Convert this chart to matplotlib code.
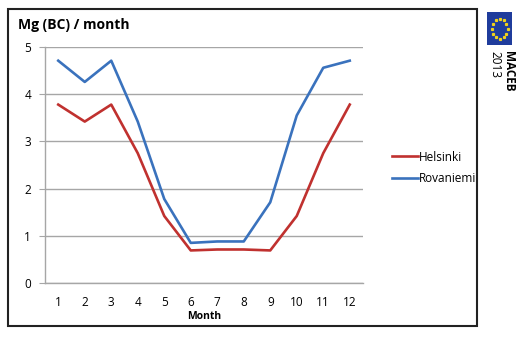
import numpy as np
import matplotlib
matplotlib.use("Agg")
import matplotlib.pyplot as plt
from matplotlib.patches import Rectangle

# data
months = [1, 2, 3, 4, 5, 6, 7, 8, 9, 10, 11, 12]
helsinki = [3.78, 3.42, 3.78, 2.75, 1.42, 0.69, 0.71, 0.71, 0.69, 1.42, 2.75, 3.78]
rovaniemi = [4.71, 4.26, 4.71, 3.42, 1.78, 0.85, 0.88, 0.88, 1.71, 3.55, 4.56, 4.71]
yticks = [0, 1, 2, 3, 4, 5]

plt.rcParams['font.family'] = ['Open Sans', 'DejaVu Sans']

W, H = 522, 340
fig = plt.figure(figsize=(W / 100, H / 100), dpi=100)

# plot area in pixels: x 45..363, y 47..283
ax = fig.add_axes([45 / W, 1 - 283 / H, (363 - 45) / W, (283 - 47) / H])
ax.plot(months, helsinki, color='#c0312f', lw=1.9, label='Helsinki')
ax.plot(months, rovaniemi, color='#3a72bd', lw=1.9, label='Rovaniemi')

ax.set_xlim(0.5, 12.5)
ax.set_ylim(0, 5)
ax.set_xticks(months)
ax.set_yticks(yticks)
ax.grid(axis='y', color='#a6a6a6', lw=1)
ax.set_axisbelow(True)
for s in ['top', 'right']:
    ax.spines[s].set_visible(False)
for s in ['left', 'bottom']:
    ax.spines[s].set_color('#a6a6a6')
    ax.spines[s].set_linewidth(1)
ax.tick_params(axis='y', length=4, color='#a6a6a6', labelsize=8.5, pad=6)
ax.tick_params(axis='x', length=0, labelsize=8.5, pad=9)
ax.set_xlabel('Month', fontsize=7.5, fontweight='bold', labelpad=2)

fig.text(18 / W, 1 - 25 / H, 'Mg (BC) / month', fontsize=10, fontweight='bold',
         va='center', ha='left')

ax.legend(loc='center left', bbox_to_anchor=(381 / W, 1 - 168 / H),
          bbox_transform=fig.transFigure, frameon=False, fontsize=8.5,
          handlelength=2.2, handletextpad=0.1, labelspacing=0.75)

# outer frame
fig.patches.append(Rectangle((8 / W, 1 - 326 / H), (477 - 8) / W, (326 - 9) / H,
                             transform=fig.transFigure, fill=False,
                             edgecolor='#222222', lw=1.5))

# logo
fig.patches.append(Rectangle((487 / W, 1 - 45 / H), 25 / W, 33 / H,
                             transform=fig.transFigure, facecolor='#1f3c9c',
                             edgecolor='none'))
ang = np.linspace(0, 2 * np.pi, 12, endpoint=False)
sx = 499.5 + 8 * np.cos(ang)
sy = 28.5 + 10 * np.sin(ang)
fig.add_artist(plt.Line2D(sx / W, 1 - sy / H, transform=fig.transFigure,
                          ls='none', marker='s', ms=1.3, color='#f2d21b'))
fig.text(508 / W, 1 - 51 / H, 'MACEB', rotation=-90, fontsize=8.5,
         fontweight='bold', ha='center', va='top')
fig.text(495 / W, 1 - 51 / H, '2013', rotation=-90, fontsize=8.5,
         ha='center', va='top')

fig.savefig('out.png', dpi=100)
